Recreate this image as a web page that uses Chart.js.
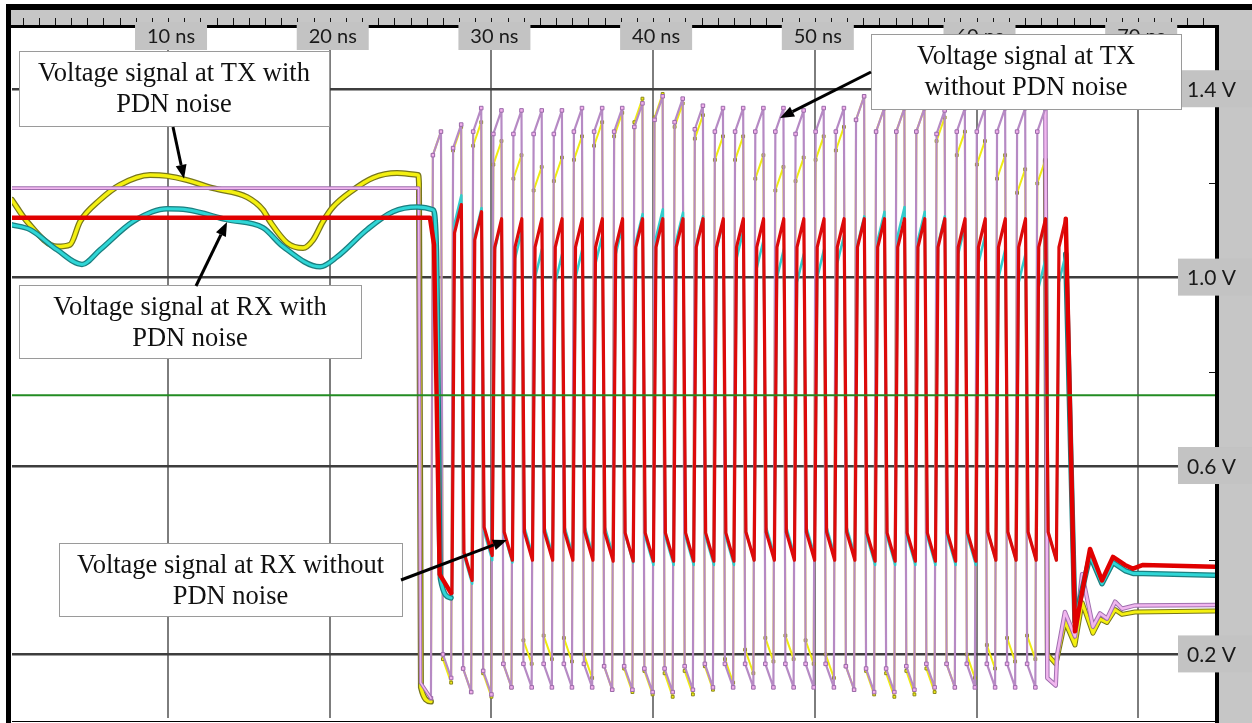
<!DOCTYPE html>
<html>
<head>
<meta charset="utf-8">
<script src="https://cdn.jsdelivr.net/npm/chart.js@4.4.1/dist/chart.umd.min.js"></script>
<style>
  html, body { margin: 0; padding: 0; background: #fff; }
  canvas { display: block; }
</style>
</head>
<body>
<canvas id="scope" width="1252" height="723"></canvas>
<script>
// axis ranges and grid
const timeMin = 0.35, timeMax = 74.75;
const voltMin = 0.065, voltMax = 1.53;
const timeGrid = [10, 20, 30, 40, 50, 60, 70];
const voltGrid = [0.2, 0.6, 1.0, 1.4];
const voltMinor = [0.4, 0.8, 1.2];
const threshold = 0.75;

// idle stretch before the burst (ns, V)
const txNoisyLeadT = [0.35, 1.28, 3.14, 3.94, 4.56, 5.79, 7.03, 8.89, 9.94, 11.17, 12.78, 14.89, 15.87, 16.31, 17.36, 18.35, 18.97, 19.58, 20.20, 21.44, 22.68, 24.16, 25.46, 25.52, 25.64, 26.26];
const txNoisyLeadV = [1.165, 1.119, 1.066, 1.070, 1.119, 1.165, 1.197, 1.218, 1.216, 1.207, 1.190, 1.171, 1.144, 1.119, 1.074, 1.063, 1.080, 1.119, 1.150, 1.186, 1.212, 1.222, 1.218, 1.20, 0.13, 0.10];
const txLeadT = [0.35, 25.50, 25.62, 26.26];
const txLeadV = [1.19, 1.19, 0.14, 0.107];
const rxNoisyLeadT = [0.35, 1.47, 3.14, 4.68, 5.79, 7.84, 9.94, 11.17, 13.65, 15.87, 17.11, 19.40, 20.45, 22.31, 23.91, 25.40, 26.39, 26.60, 26.85, 27.50];
const rxNoisyLeadV = [1.112, 1.102, 1.059, 1.028, 1.059, 1.119, 1.146, 1.144, 1.123, 1.106, 1.066, 1.023, 1.044, 1.102, 1.140, 1.150, 1.144, 1.06, 0.36, 0.32];
const rxLeadT = [0.35, 26.20, 26.45, 26.80, 27.50];
const rxLeadV = [1.127, 1.127, 1.07, 0.37, 0.33];

// burst: rising edge of each TX pulse (ns)
const pulseStart = [26.26, 27.51, 28.75, 30.00, 31.24, 32.49, 33.74, 34.98, 36.23, 37.47, 38.72, 39.97, 41.21, 42.46, 43.70, 44.95, 46.20, 47.44, 48.69, 49.93, 51.18, 52.43, 53.67, 54.92, 56.16, 57.41, 58.66, 59.90, 61.15, 62.39, 63.64];

// pulse tops (V)
const txHigh      = [1.31, 1.325, 1.36, 1.355, 1.355, 1.355, 1.355, 1.36, 1.36, 1.36, 1.37, 1.385, 1.38, 1.365, 1.36, 1.36, 1.36, 1.36, 1.355, 1.36, 1.36, 1.385, 1.36, 1.36, 1.36, 1.355, 1.36, 1.36, 1.36, 1.36, 1.36];
const txNoisyHigh = [1.31, 1.32, 1.33, 1.29, 1.26, 1.235, 1.255, 1.30, 1.33, 1.35, 1.38, 1.39, 1.37, 1.345, 1.30, 1.30, 1.26, 1.235, 1.255, 1.30, 1.32, 1.385, 1.36, 1.36, 1.36, 1.34, 1.31, 1.29, 1.26, 1.23, 1.25];
const rxHigh      = [1.155, 1.14, 1.125, 1.125, 1.125, 1.125, 1.125, 1.125, 1.125, 1.125, 1.125, 1.125, 1.125, 1.125, 1.125, 1.125, 1.125, 1.125, 1.125, 1.125, 1.125, 1.125, 1.125, 1.125, 1.125, 1.125, 1.125, 1.125, 1.125, 1.125, 1.125];
const rxNoisyHigh = [1.175, 1.148, 1.12, 1.10, 1.06, 1.05, 1.06, 1.09, 1.11, 1.135, 1.145, 1.138, 1.13, 1.12, 1.10, 1.08, 1.06, 1.05, 1.06, 1.09, 1.13, 1.14, 1.15, 1.14, 1.13, 1.11, 1.09, 1.06, 1.05, 1.04, 1.05];

// lows between pulses (V)
const txLow      = [0.15, 0.12, 0.115, 0.13, 0.13, 0.13, 0.13, 0.13, 0.125, 0.125, 0.12, 0.12, 0.125, 0.13, 0.13, 0.13, 0.13, 0.13, 0.13, 0.13, 0.125, 0.12, 0.12, 0.125, 0.13, 0.13, 0.13, 0.13, 0.13, 0.13];
const txNoisyLow = [0.14, 0.12, 0.11, 0.13, 0.18, 0.19, 0.185, 0.15, 0.125, 0.12, 0.115, 0.11, 0.115, 0.125, 0.14, 0.16, 0.185, 0.19, 0.18, 0.15, 0.125, 0.115, 0.11, 0.115, 0.12, 0.13, 0.15, 0.17, 0.185, 0.19];
const rxLow      = [0.357, 0.41, 0.40, 0.40, 0.40, 0.40, 0.40, 0.398, 0.398, 0.398, 0.398, 0.398, 0.398, 0.398, 0.40, 0.40, 0.40, 0.40, 0.40, 0.40, 0.398, 0.398, 0.398, 0.398, 0.398, 0.398, 0.40, 0.40, 0.40, 0.40];
const rxNoisyLow = [0.35, 0.40, 0.395, 0.41, 0.41, 0.41, 0.41, 0.41, 0.395, 0.39, 0.39, 0.39, 0.39, 0.39, 0.40, 0.41, 0.41, 0.41, 0.41, 0.41, 0.39, 0.39, 0.39, 0.39, 0.39, 0.39, 0.40, 0.40, 0.40, 0.40];

// settling after the burst (ns, V)
const txTailT = [64.38, 64.90, 64.98, 65.47, 66.09, 66.53, 67.20, 67.64, 68.07, 68.57, 69.00, 69.80, 74.75];
const txTailV = [0.15, 0.134, 0.198, 0.29, 0.238, 0.37, 0.259, 0.287, 0.276, 0.312, 0.297, 0.304, 0.305];
const txNoisyTailT = [64.38, 64.90, 64.98, 65.47, 66.09, 66.53, 67.20, 67.64, 68.07, 68.57, 69.00, 69.80, 74.75];
const txNoisyTailV = [0.20, 0.18, 0.19, 0.27, 0.22, 0.31, 0.245, 0.275, 0.268, 0.295, 0.285, 0.29, 0.292];
const rxTailT = [66.09, 67.02, 67.76, 68.44, 69.18, 69.68, 70.30, 74.75];
const rxTailV = [0.249, 0.424, 0.357, 0.407, 0.39, 0.382, 0.39, 0.386];
const rxNoisyTailT = [66.09, 67.02, 67.76, 68.44, 69.18, 69.68, 70.30, 74.75];
const rxNoisyTailV = [0.27, 0.41, 0.35, 0.395, 0.378, 0.372, 0.372, 0.368];

// edge shape of the TX and RX pulses
const txShape = { delay: 0, edge: 0.12, width: 0.5, step: 0.05 };
const rxShape = { delay: 1.3, edge: 0.16, width: 0.42, step: 0.06 };

const zip = (ts, vs) => ts.map((t, i) => ({ x: t, y: vs[i] }));

function pulses(highs, lows, firstLow, shape) {
  const pts = [];
  let prev = firstLow;
  pulseStart.forEach((s, k) => {
    const t = s + shape.delay;
    pts.push({ x: t, y: prev });
    pts.push({ x: t + shape.edge, y: highs[k] - shape.step });
    pts.push({ x: t + shape.edge + shape.width, y: highs[k] });
    if (k < lows.length) {
      pts.push({ x: t + 2 * shape.edge + shape.width, y: lows[k] + shape.step });
      prev = lows[k];
    }
  });
  return pts;
}

// one trace split into idle, burst and settling parts
function trace(leadT, leadV, highs, lows, shape, tailT, tailV) {
  const lead = zip(leadT, leadV);
  const burst = pulses(highs, lows, leadV[leadV.length - 1], shape);
  const tail = [burst[burst.length - 1]].concat(zip(tailT, tailV));
  return { lead, burst, tail };
}

const tx = trace(txLeadT, txLeadV, txHigh, txLow, txShape, txTailT, txTailV);
const txNoisy = trace(txNoisyLeadT, txNoisyLeadV, txNoisyHigh, txNoisyLow, txShape, txNoisyTailT, txNoisyTailV);
const rx = trace(rxLeadT, rxLeadV, rxHigh, rxLow, rxShape, rxTailT, rxTailV);
const rxNoisy = trace(rxNoisyLeadT, rxNoisyLeadV, rxNoisyHigh, rxNoisyLow, rxShape, rxNoisyTailT, rxNoisyTailV);

function line(data, color, width, extra) {
  return Object.assign({
    data, borderColor: color, borderWidth: width, pointRadius: 0,
    tension: 0, fill: false, borderJoinStyle: 'round', borderCapStyle: 'round'
  }, extra || {});
}

const smooth = { cubicInterpolationMode: 'monotone' };
const pinkDot = { pointRadius: 2.5, pointStyle: 'rect', pointBackgroundColor: '#f2b0ec', pointBorderColor: '#9a6aaa', pointBorderWidth: 1 };
const yellowDot = { pointRadius: 2, pointStyle: 'rect', pointBackgroundColor: '#f4f010', pointBorderColor: '#8a8620', pointBorderWidth: 1 };

// first dataset ends up on top
const datasets = [
  line([{ x: timeMin, y: threshold }, { x: timeMax, y: threshold }], '#238c23', 2),
  line(rx.lead, '#e00000', 4.5),
  line(rx.burst, '#dd0a0a', 3.2),
  line(rx.tail, '#e00000', 4.5),
  line(rxNoisy.lead, '#2fd6d6', 3, smooth),
  line(rxNoisy.lead, '#1b7f80', 5.5, smooth),
  line(rxNoisy.burst, '#33cccc', 2.5),
  line(rxNoisy.tail, '#2fd6d6', 3),
  line(rxNoisy.tail, '#1b7f80', 5.5),
  line(tx.lead, '#f1b6ef', 1.6),
  line(tx.lead, '#9f6fae', 3.6),
  line(tx.burst, '#b68ac4', 2.2, pinkDot),
  line(tx.tail, '#f1b6ef', 2.5),
  line(tx.tail, '#9f6fae', 4.5),
  line(txNoisy.lead, '#f4f010', 3.5, smooth),
  line(txNoisy.lead, '#77761c', 6, smooth),
  line(txNoisy.burst, '#efeb12', 2, yellowDot),
  line(txNoisy.tail, '#f4f010', 3),
  line(txNoisy.tail, '#77761c', 5)
];

// callout boxes: pixel boxes, arrow tips in data units
const notes = [
  { text: ['Voltage signal at TX with', 'PDN noise'], box: [19, 51, 310, 75], from: [173, 127], to: [10.99, 1.21] },
  { text: ['Voltage signal at RX with', 'PDN noise'], box: [19, 285, 342, 73], from: [196, 286], to: [13.65, 1.118] },
  { text: ['Voltage signal at RX without', 'PDN noise'], box: [59, 543, 343, 73], from: [401, 580], to: [30.96, 0.443] },
  { text: ['Voltage signal at TX', 'without PDN noise'], box: [871, 34, 310, 75], from: [871, 72], to: [47.85, 1.339] }
];

function arrow(c, x0, y0, x1, y1) {
  const ang = Math.atan2(y1 - y0, x1 - x0), head = 14, half = 5.5;
  const bx = x1 - head * Math.cos(ang), by = y1 - head * Math.sin(ang);
  c.strokeStyle = '#000'; c.lineWidth = 3;
  c.beginPath(); c.moveTo(x0, y0); c.lineTo(bx, by); c.stroke();
  c.fillStyle = '#000';
  c.beginPath();
  c.moveTo(x1, y1);
  c.lineTo(bx + half * Math.sin(ang), by - half * Math.cos(ang));
  c.lineTo(bx - half * Math.sin(ang), by + half * Math.cos(ang));
  c.closePath(); c.fill();
}

const scopeFrame = {
  id: 'scopeFrame',
  beforeDraw(chart) {
    const c = chart.ctx;
    c.save(); c.fillStyle = '#fff'; c.fillRect(0, 0, chart.width, chart.height); c.restore();
  },
  afterDraw(chart) {
    const c = chart.ctx, a = chart.chartArea, xs = chart.scales.x, ys = chart.scales.y;
    const W = chart.width, H = chart.height;
    c.save();
    // gray rulers
    c.fillStyle = '#c6c6c6';
    c.fillRect(a.left - 1, 10, W, a.top - 13);
    c.fillRect(a.right + 4, 10, W, H);
    // black frame
    c.fillStyle = '#000';
    c.fillRect(6, 4, W, 6);
    c.fillRect(6, 4, 5, H);
    c.fillRect(a.left - 1, a.top - 3, a.right - a.left + 5, 3);
    c.fillRect(a.right, a.top - 3, 4, H);
    c.fillRect(a.left, H - 2, a.right - a.left, 1);
    // 1 ns ticks on the time ruler
    c.fillStyle = '#111';
    for (let t = 1; t < timeMax; t++) {
      const px = Math.round(xs.getPixelForValue(t));
      c.fillRect(px, a.top - 10, 1, 7);
    }
    // minor volt ticks
    voltMinor.forEach(v => {
      const py = Math.round(ys.getPixelForValue(v));
      c.fillRect(a.right - 6, py, 6, 1);
    });
    // time labels
    c.textBaseline = 'middle';
    c.textAlign = 'center';
    c.font = '20px Lato';
    timeGrid.forEach(t => {
      const px = xs.getPixelForValue(t) + 3;
      c.fillStyle = '#c3c3c3';
      c.fillRect(px - 36, 22, 72, 28);
      c.fillStyle = '#1a1a1a';
      c.fillText(t + ' ns', px, 37);
    });
    // volt labels
    c.textAlign = 'left';
    c.font = '21px Lato';
    voltGrid.forEach(v => {
      const py = ys.getPixelForValue(v);
      c.fillStyle = '#c3c3c3';
      c.fillRect(a.right - 37, py - 19, 74, 37);
      c.fillStyle = '#1a1a1a';
      c.fillText(v.toFixed(1) + ' V', a.right - 28, py + 1);
    });
    // callouts
    c.font = '26.5px "Liberation Serif"';
    c.textAlign = 'center';
    notes.forEach(n => {
      const [bx, by, bw, bh] = n.box;
      c.fillStyle = '#fff';
      c.fillRect(bx, by, bw, bh);
      c.strokeStyle = '#9a9a9a'; c.lineWidth = 1;
      c.strokeRect(bx + 0.5, by + 0.5, bw, bh);
      c.fillStyle = '#111';
      n.text.forEach((s, i) => c.fillText(s, bx + bw / 2, by + 23 + i * 31));
      arrow(c, n.from[0], n.from[1], xs.getPixelForValue(n.to[0]), ys.getPixelForValue(n.to[1]));
    });
    c.restore();
  }
};

new Chart(document.getElementById('scope'), {
  type: 'line',
  data: { datasets },
  options: {
    responsive: false,
    animation: false,
    events: [],
    parsing: false,
    layout: { padding: { left: 12, top: 28, right: 37, bottom: 3 } },
    plugins: { legend: { display: false }, tooltip: { enabled: false } },
    scales: {
      x: {
        type: 'linear', min: timeMin, max: timeMax,
        afterBuildTicks: s => { s.ticks = timeGrid.map(v => ({ value: v })); },
        afterFit: s => { s.height = 0; },
        ticks: { display: false },
        border: { display: false },
        grid: { color: '#7d7d7d', lineWidth: 2, drawTicks: false }
      },
      y: {
        type: 'linear', min: voltMin, max: voltMax,
        afterBuildTicks: s => { s.ticks = voltGrid.map(v => ({ value: v })); },
        afterFit: s => { s.width = 0; },
        ticks: { display: false },
        border: { display: false },
        grid: { color: '#3d3d3d', lineWidth: 2.5, drawTicks: false }
      }
    }
  },
  plugins: [scopeFrame]
});
</script>
</body>
</html>
